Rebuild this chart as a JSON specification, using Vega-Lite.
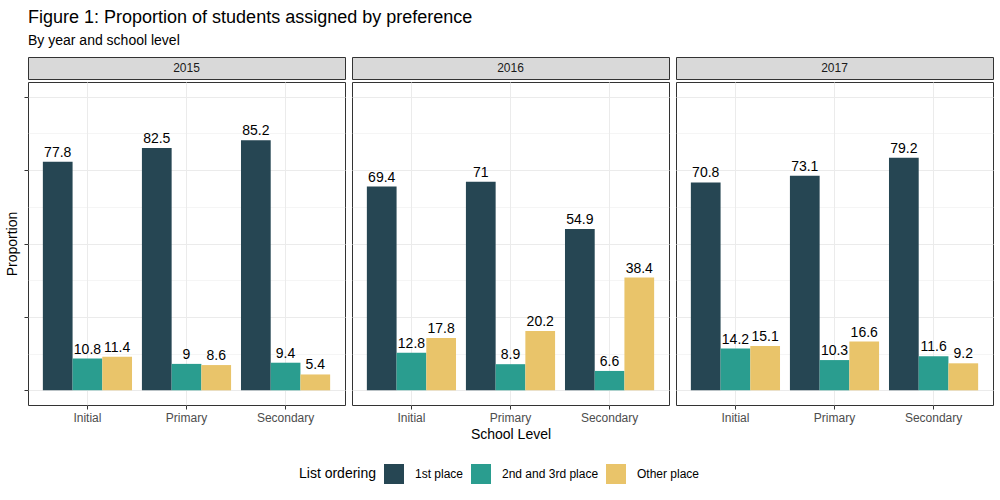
{
  "$schema": "https://vega.github.io/schema/vega-lite/v6.json",
  "background": "white",
  "padding": {"left": 5, "right": 5, "top": 8, "bottom": 5},
  "title": {
    "text": "Figure 1: Proportion of students assigned by preference",
    "subtitle": "By year and school level",
    "anchor": "start",
    "frame": "group",
    "fontSize": 18,
    "fontWeight": "normal",
    "subtitleFontSize": 14,
    "color": "black",
    "subtitleColor": "black",
    "font": "Liberation Sans",
    "subtitleFont": "Liberation Sans",
    "subtitlePadding": 7,
    "offset": 9
  },
  "datasets": {
    "years": [{"year": 2015}, {"year": 2016}, {"year": 2017}],
    "bars": [
      {"year": 2015, "level": "Initial", "ordering": "1st place", "value": 77.8},
      {"year": 2015, "level": "Initial", "ordering": "2nd and 3rd place", "value": 10.8},
      {"year": 2015, "level": "Initial", "ordering": "Other place", "value": 11.4},
      {"year": 2015, "level": "Primary", "ordering": "1st place", "value": 82.5},
      {"year": 2015, "level": "Primary", "ordering": "2nd and 3rd place", "value": 9},
      {"year": 2015, "level": "Primary", "ordering": "Other place", "value": 8.6},
      {"year": 2015, "level": "Secondary", "ordering": "1st place", "value": 85.2},
      {"year": 2015, "level": "Secondary", "ordering": "2nd and 3rd place", "value": 9.4},
      {"year": 2015, "level": "Secondary", "ordering": "Other place", "value": 5.4},
      {"year": 2016, "level": "Initial", "ordering": "1st place", "value": 69.4},
      {"year": 2016, "level": "Initial", "ordering": "2nd and 3rd place", "value": 12.8},
      {"year": 2016, "level": "Initial", "ordering": "Other place", "value": 17.8},
      {"year": 2016, "level": "Primary", "ordering": "1st place", "value": 71},
      {"year": 2016, "level": "Primary", "ordering": "2nd and 3rd place", "value": 8.9},
      {"year": 2016, "level": "Primary", "ordering": "Other place", "value": 20.2},
      {"year": 2016, "level": "Secondary", "ordering": "1st place", "value": 54.9},
      {"year": 2016, "level": "Secondary", "ordering": "2nd and 3rd place", "value": 6.6},
      {"year": 2016, "level": "Secondary", "ordering": "Other place", "value": 38.4},
      {"year": 2017, "level": "Initial", "ordering": "1st place", "value": 70.8},
      {"year": 2017, "level": "Initial", "ordering": "2nd and 3rd place", "value": 14.2},
      {"year": 2017, "level": "Initial", "ordering": "Other place", "value": 15.1},
      {"year": 2017, "level": "Primary", "ordering": "1st place", "value": 73.1},
      {"year": 2017, "level": "Primary", "ordering": "2nd and 3rd place", "value": 10.3},
      {"year": 2017, "level": "Primary", "ordering": "Other place", "value": 16.6},
      {"year": 2017, "level": "Secondary", "ordering": "1st place", "value": 79.2},
      {"year": 2017, "level": "Secondary", "ordering": "2nd and 3rd place", "value": 11.6},
      {"year": 2017, "level": "Secondary", "ordering": "Other place", "value": 9.2}
    ]
  },
  "spacing": 5,
  "hconcat": [
    {
      "spacing": 1,
      "vconcat": [
        {
          "data": {"name": "years"},
          "transform": [{"filter": "datum.year == 2015"}],
          "width": 317, "height": 22,
          "view": {"fill": "#D9D9D9", "stroke": "#333333"},
          "mark": {"type": "text", "fontSize": 12, "color": "#1A1A1A"},
          "encoding": {"text": {"field": "year", "type": "nominal"}}
        },
        {
          "data": {"name": "bars"},
          "transform": [{"filter": "datum.year == 2015"}],
          "width": 317, "height": 323,
          "view": {"stroke": "#333333"},
          "encoding": {
            "x": {"field": "level", "type": "nominal", "sort": ["Initial", "Primary", "Secondary"],
                  "scale": {"paddingInner": 0.1, "paddingOuter": 0.15},
                  "axis": {"title": null, "labelAngle": 0, "domain": false, "tickSize": 4, "tickColor": "#333333", "bandPosition": 0.5, "grid": true, "gridColor": "#EBEBEB", "labelColor": "#4D4D4D", "labelFontSize": 12, "labelPadding": 3}},
            "xOffset": {"field": "ordering", "type": "nominal", "sort": ["1st place", "2nd and 3rd place", "Other place"], "scale": {"paddingInner": 0, "paddingOuter": 0}},
            "y": {"field": "value", "type": "quantitative",
                  "scale": {"domain": [-5, 105], "nice": false, "zero": false},
                  "axis": {"values": [0, 12.5, 25, 37.5, 50, 62.5, 75, 87.5, 100], "labels": false, "title": "Proportion", "domain": false, "tickColor": "#333333", "tickSize": 4,
                           "tickOpacity": {"condition": {"test": "datum.value % 25 === 0", "value": 1}, "value": 0},
                           "grid": true, "gridColor": "#EBEBEB",
                           "gridWidth": {"condition": {"test": "datum.value % 25 === 0", "value": 1}, "value": 0.5},
                           "titleFontSize": 14, "titleFontWeight": "normal", "titleColor": "black", "titlePadding": 4}}
          },
          "layer": [
            {
              "mark": {"type": "bar"},
              "encoding": {
                "y2": {"datum": 0},
                "color": {"field": "ordering", "type": "nominal",
                          "scale": {"domain": ["1st place", "2nd and 3rd place", "Other place"], "range": ["#264653", "#2A9D8F", "#E9C46A"]},
                          "legend": {"orient": "bottom", "direction": "horizontal", "title": "List ordering", "titleOrient": "left", "titleFontSize": 14, "titleFontWeight": "normal", "titleColor": "black", "labelFontSize": 12, "labelColor": "black", "symbolType": "square", "symbolSize": 400, "symbolStrokeWidth": 0, "symbolOpacity": 1, "labelOffset": 11, "columnPadding": 7, "titlePadding": 7, "offset": 22}}
              }
            },
            {
              "mark": {"type": "text", "baseline": "bottom", "dy": -2, "fontSize": 14, "color": "black"},
              "encoding": {"text": {"field": "value", "type": "nominal"}}
            }
          ]
        }
      ]
    },
    {
      "spacing": 1,
      "vconcat": [
        {
          "data": {"name": "years"},
          "transform": [{"filter": "datum.year == 2016"}],
          "width": 317, "height": 22,
          "view": {"fill": "#D9D9D9", "stroke": "#333333"},
          "mark": {"type": "text", "fontSize": 12, "color": "#1A1A1A"},
          "encoding": {"text": {"field": "year", "type": "nominal"}}
        },
        {
          "data": {"name": "bars"},
          "transform": [{"filter": "datum.year == 2016"}],
          "width": 317, "height": 323,
          "view": {"stroke": "#333333"},
          "encoding": {
            "x": {"field": "level", "type": "nominal", "sort": ["Initial", "Primary", "Secondary"],
                  "scale": {"paddingInner": 0.1, "paddingOuter": 0.15},
                  "axis": {"title": "School Level", "labelAngle": 0, "domain": false, "tickSize": 4, "tickColor": "#333333", "bandPosition": 0.5, "grid": true, "gridColor": "#EBEBEB", "labelColor": "#4D4D4D", "labelFontSize": 12, "labelPadding": 3, "titleFontSize": 14, "titleFontWeight": "normal", "titleColor": "black", "titlePadding": 4}},
            "xOffset": {"field": "ordering", "type": "nominal", "sort": ["1st place", "2nd and 3rd place", "Other place"], "scale": {"paddingInner": 0, "paddingOuter": 0}},
            "y": {"field": "value", "type": "quantitative",
                  "scale": {"domain": [-5, 105], "nice": false, "zero": false},
                  "axis": {"values": [0, 12.5, 25, 37.5, 50, 62.5, 75, 87.5, 100], "labels": false, "ticks": false, "title": null, "domain": false,
                           "grid": true, "gridColor": "#EBEBEB",
                           "gridWidth": {"condition": {"test": "datum.value % 25 === 0", "value": 1}, "value": 0.5}}}
          },
          "layer": [
            {
              "mark": {"type": "bar"},
              "encoding": {
                "y2": {"datum": 0},
                "color": {"field": "ordering", "type": "nominal",
                          "scale": {"domain": ["1st place", "2nd and 3rd place", "Other place"], "range": ["#264653", "#2A9D8F", "#E9C46A"]},
                          "legend": {"orient": "bottom", "direction": "horizontal", "title": "List ordering", "titleOrient": "left", "titleFontSize": 14, "titleFontWeight": "normal", "titleColor": "black", "labelFontSize": 12, "labelColor": "black", "symbolType": "square", "symbolSize": 400, "symbolStrokeWidth": 0, "symbolOpacity": 1, "labelOffset": 11, "columnPadding": 7, "titlePadding": 7, "offset": 22}}
              }
            },
            {
              "mark": {"type": "text", "baseline": "bottom", "dy": -2, "fontSize": 14, "color": "black"},
              "encoding": {"text": {"field": "value", "type": "nominal"}}
            }
          ]
        }
      ]
    },
    {
      "spacing": 1,
      "vconcat": [
        {
          "data": {"name": "years"},
          "transform": [{"filter": "datum.year == 2017"}],
          "width": 317, "height": 22,
          "view": {"fill": "#D9D9D9", "stroke": "#333333"},
          "mark": {"type": "text", "fontSize": 12, "color": "#1A1A1A"},
          "encoding": {"text": {"field": "year", "type": "nominal"}}
        },
        {
          "data": {"name": "bars"},
          "transform": [{"filter": "datum.year == 2017"}],
          "width": 317, "height": 323,
          "view": {"stroke": "#333333"},
          "encoding": {
            "x": {"field": "level", "type": "nominal", "sort": ["Initial", "Primary", "Secondary"],
                  "scale": {"paddingInner": 0.1, "paddingOuter": 0.15},
                  "axis": {"title": null, "labelAngle": 0, "domain": false, "tickSize": 4, "tickColor": "#333333", "bandPosition": 0.5, "grid": true, "gridColor": "#EBEBEB", "labelColor": "#4D4D4D", "labelFontSize": 12, "labelPadding": 3}},
            "xOffset": {"field": "ordering", "type": "nominal", "sort": ["1st place", "2nd and 3rd place", "Other place"], "scale": {"paddingInner": 0, "paddingOuter": 0}},
            "y": {"field": "value", "type": "quantitative",
                  "scale": {"domain": [-5, 105], "nice": false, "zero": false},
                  "axis": {"values": [0, 12.5, 25, 37.5, 50, 62.5, 75, 87.5, 100], "labels": false, "ticks": false, "title": null, "domain": false,
                           "grid": true, "gridColor": "#EBEBEB",
                           "gridWidth": {"condition": {"test": "datum.value % 25 === 0", "value": 1}, "value": 0.5}}}
          },
          "layer": [
            {
              "mark": {"type": "bar"},
              "encoding": {
                "y2": {"datum": 0},
                "color": {"field": "ordering", "type": "nominal",
                          "scale": {"domain": ["1st place", "2nd and 3rd place", "Other place"], "range": ["#264653", "#2A9D8F", "#E9C46A"]},
                          "legend": {"orient": "bottom", "direction": "horizontal", "title": "List ordering", "titleOrient": "left", "titleFontSize": 14, "titleFontWeight": "normal", "titleColor": "black", "labelFontSize": 12, "labelColor": "black", "symbolType": "square", "symbolSize": 400, "symbolStrokeWidth": 0, "symbolOpacity": 1, "labelOffset": 11, "columnPadding": 7, "titlePadding": 7, "offset": 22}}
              }
            },
            {
              "mark": {"type": "text", "baseline": "bottom", "dy": -2, "fontSize": 14, "color": "black"},
              "encoding": {"text": {"field": "value", "type": "nominal"}}
            }
          ]
        }
      ]
    }
  ],
  "config": {
    "font": "Liberation Sans",
    "view": {"stroke": "#333333"},
    "legend": {"labelFont": "Liberation Sans", "titleFont": "Liberation Sans", "layout": {"bottom": {"anchor": "middle"}}}
  }
}
